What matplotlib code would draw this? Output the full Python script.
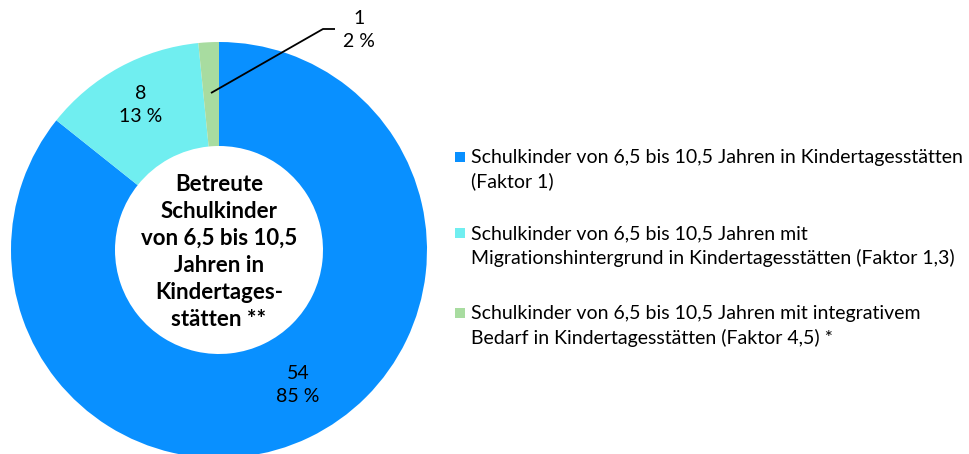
import matplotlib.pyplot as plt
from matplotlib.patches import Rectangle

plt.rcParams['font.family'] = ['Lato', 'DejaVu Sans']

categories = [
    "Schulkinder von 6,5 bis 10,5 Jahren in Kindertagesstätten\n(Faktor 1)",
    "Schulkinder von 6,5 bis 10,5 Jahren mit\nMigrationshintergrund in Kindertagesstätten (Faktor 1,3)",
    "Schulkinder von 6,5 bis 10,5 Jahren mit integrativem\nBedarf in Kindertagesstätten (Faktor 4,5) *",
]
values = [54, 8, 1]
percent_labels = ["85 %", "13 %", "2 %"]
colors = ["#0990FF", "#70EEF0", "#A8DCA0"]
center_title = "Betreute\nSchulkinder\nvon 6,5 bis 10,5\nJahren in\nKindertages-\nstätten **"

W, H = 970, 454
fig = plt.figure(figsize=(W / 100, H / 100), dpi=100)

# donut axes: centre (219, 250) px from top, outer radius 208 px
cx, cy, R = 219, H - 250, 208
ax = fig.add_axes([(cx - R) / W, (cy - R) / H, 2 * R / W, 2 * R / H])

wedges, _ = ax.pie(values, colors=colors, startangle=90, counterclock=False,
                   radius=1, wedgeprops=dict(width=0.5, linewidth=0),
                   normalize=True)
for w in wedges:
    w.set_clip_on(False)
ax.set_xlim(-1, 1)
ax.set_ylim(-1, 1)
ax.set_aspect('equal')
ax.axis('off')


def px_to_data(x, y):
    return ((x - cx) / R, (H - y - cy) / R)


label_fs = 14
ls = 1.42
# data labels
for (lx, ly), v, p in zip([(298, 385), (141, 105), (359, 30)], values,
                          percent_labels):
    x, y = px_to_data(lx, ly)
    ax.text(x, y, f"{v}\n{p}", ha='center', va='center',
            fontsize=label_fs, linespacing=ls)

# leader line for the small slice
p0 = px_to_data(211, 93)
p1 = px_to_data(323, 29)
p2 = px_to_data(335, 29)
ax.plot([p0[0], p1[0], p2[0]], [p0[1], p1[1], p2[1]], color='black', lw=1.3,
        clip_on=False, solid_capstyle='butt')

# centre caption
x, y = px_to_data(219, 252)
ax.text(x, y, center_title, ha='center', va='center', fontsize=16,
        fontweight='bold', linespacing=1.36)

# legend
leg_tops = [157, 233, 313]
for top, col, lab in zip(leg_tops, colors, categories):
    fig.add_artist(Rectangle((455 / W, (H - top - 5) / H), 10 / W, 10 / H,
                             transform=fig.transFigure, facecolor=col,
                             edgecolor='none'))
    fig.text(471 / W, (H - top - 13) / H, lab, ha='left', va='center',
             fontsize=label_fs, linespacing=ls)

fig.savefig("out.png", dpi=100)
